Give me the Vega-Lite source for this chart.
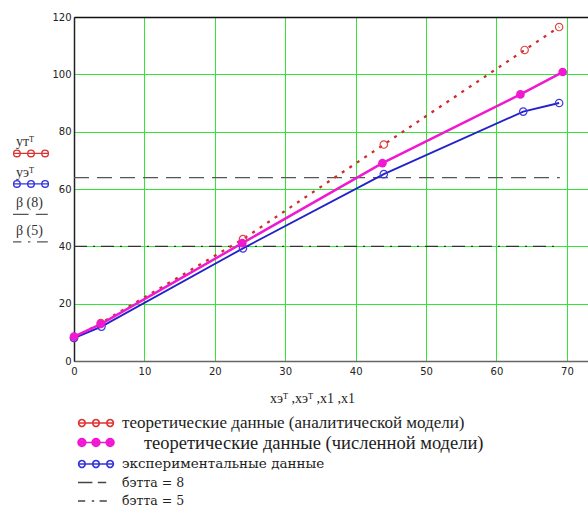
{
  "$schema": "https://vega.github.io/schema/vega-lite/v6.json",
  "width": 514,
  "height": 344,
  "autosize": {"type": "none"},
  "padding": {"left": 74, "top": 17, "right": 0, "bottom": 146},
  "background": "white",
  "config": {"view": {"stroke": null}},
  "datasets": {
    "pts": [
      {"s": "an", "x": 0, "y": 8},
      {"s": "an", "x": 3.8, "y": 13.2},
      {"s": "an", "x": 24, "y": 42.5},
      {"s": "an", "x": 44, "y": 75.5},
      {"s": "an", "x": 64, "y": 108.5},
      {"s": "an", "x": 68.9, "y": 116.5},
      {"s": "num", "x": 0, "y": 8.5},
      {"s": "num", "x": 3.8, "y": 12.9},
      {"s": "num", "x": 23.9, "y": 41.1},
      {"s": "num", "x": 43.8, "y": 69},
      {"s": "num", "x": 63.4, "y": 93},
      {"s": "num", "x": 69.4, "y": 100.8},
      {"s": "exp", "x": 0, "y": 8},
      {"s": "exp", "x": 3.9, "y": 12},
      {"s": "exp", "x": 24, "y": 39.3},
      {"s": "exp", "x": 44, "y": 65.2},
      {"s": "exp", "x": 63.8, "y": 87},
      {"s": "exp", "x": 68.9, "y": 90},
      {"s": "b8", "x": 0, "y": 64},
      {"s": "b8", "x": 69, "y": 64},
      {"s": "b5", "x": 0, "y": 40},
      {"s": "b5", "x": 69, "y": 40}
    ]
  },
  "data": {"name": "pts"},
  "encoding": {
    "x": {
      "field": "x", "type": "quantitative",
      "scale": {"domain": [0, 73], "nice": false, "zero": false},
      "axis": {
        "values": [0, 10, 20, 30, 40, 50, 60, 70],
        "title": "xэᵀ ,xэᵀ ,x1 ,x1",
        "grid": true,
        "gridColor": {"condition": {"test": "datum.value == 0", "value": "#222222"}, "value": "#33e633"},
        "gridOpacity": 1,
        "gridWidth": 1,
        "domainColor": "#666666",
        "domainWidth": 1.5,
        "ticks": false,
        "labelFont": "DejaVu Sans",
        "labelFontSize": 10,
        "labelColor": "#222222",
        "labelPadding": 5,
        "labelFlush": false,
        "labelOverlap": false,
        "titleFont": "Liberation Serif",
        "titleFontSize": 14,
        "titleFontWeight": "normal",
        "titleColor": "#222222",
        "titleX": 238,
        "titleY": 41,
        "titleAlign": "center",
        "titleBaseline": "alphabetic"
      }
    },
    "y": {
      "field": "y", "type": "quantitative",
      "scale": {"domain": [0, 120], "nice": false, "zero": false},
      "axis": {
        "values": [0, 20, 40, 60, 80, 100, 120],
        "title": null,
        "grid": true,
        "gridColor": {"condition": {"test": "datum.value == 120", "value": "#111111"}, "value": "#33e633"},
        "gridWidth": {"condition": {"test": "datum.value == 120", "value": 1.5}, "value": 1},
        "gridOpacity": 1,
        "domainColor": "#222222",
        "domainWidth": 1.5,
        "ticks": false,
        "labelFont": "DejaVu Sans",
        "labelFontSize": 10,
        "labelColor": "#222222",
        "labelPadding": 3,
        "labelFlush": false,
        "labelOverlap": false
      }
    }
  },
  "layer": [
    {
      "transform": [{"filter": "datum.s == 'b5'"}],
      "mark": {"type": "line", "color": "#333333", "strokeWidth": 1.3, "strokeDash": [13, 6, 2, 6]}
    },
    {
      "transform": [{"filter": "datum.s == 'b8'"}],
      "mark": {"type": "line", "color": "#555555", "strokeWidth": 1.3, "strokeDash": [15, 8]}
    },
    {
      "transform": [{"filter": "datum.s == 'an'"}],
      "mark": {"type": "line", "color": "#d02c2c", "strokeWidth": 2.3, "strokeDash": [3, 6]}
    },
    {
      "transform": [{"filter": "datum.s == 'exp'"}],
      "mark": {"type": "line", "color": "#2222cc", "strokeWidth": 1.8}
    },
    {
      "transform": [{"filter": "datum.s == 'num'"}],
      "mark": {"type": "line", "color": "#f018d0", "strokeWidth": 2.5}
    },
    {
      "transform": [{"filter": "datum.s == 'an'"}],
      "mark": {"type": "point", "filled": false, "opacity": 1, "color": "#e04444", "strokeWidth": 1.2, "size": 55}
    },
    {
      "transform": [{"filter": "datum.s == 'exp'"}],
      "mark": {"type": "point", "filled": false, "opacity": 1, "color": "#3a3ae0", "strokeWidth": 1.2, "size": 55}
    },
    {
      "transform": [{"filter": "datum.s == 'num'"}],
      "mark": {"type": "point", "filled": true, "opacity": 1, "color": "#f018d0", "size": 75}
    },
    {
      "transform": [{"filter": "false"}],
      "mark": {"type": "point", "filled": false, "opacity": 1},
      "encoding": {
        "shape": {
          "field": "s", "type": "nominal",
          "scale": {
            "domain": ["an", "num", "exp", "b8", "b5"],
            "range": [
              "M-2,0H2M-1.933,0a0.367,0.367 0 1,0 0.733,0a0.367,0.367 0 1,0 -0.733,0M-0.367,0a0.367,0.367 0 1,0 0.733,0a0.367,0.367 0 1,0 -0.733,0M1.2,0a0.367,0.367 0 1,0 0.733,0a0.367,0.367 0 1,0 -0.733,0",
              "M-2,0H2M-2,0a0.433,0.433 0 1,0 0.867,0a0.433,0.433 0 1,0 -0.867,0M-1.833,0a0.267,0.267 0 1,0 0.533,0a0.267,0.267 0 1,0 -0.533,0M-1.667,0a0.1,0.1 0 1,0 0.2,0a0.1,0.1 0 1,0 -0.2,0M-0.433,0a0.433,0.433 0 1,0 0.867,0a0.433,0.433 0 1,0 -0.867,0M-0.267,0a0.267,0.267 0 1,0 0.533,0a0.267,0.267 0 1,0 -0.533,0M-0.1,0a0.1,0.1 0 1,0 0.2,0a0.1,0.1 0 1,0 -0.2,0M1.133,0a0.433,0.433 0 1,0 0.867,0a0.433,0.433 0 1,0 -0.867,0M1.3,0a0.267,0.267 0 1,0 0.533,0a0.267,0.267 0 1,0 -0.533,0M1.467,0a0.1,0.1 0 1,0 0.2,0a0.1,0.1 0 1,0 -0.2,0",
              "M-2,0H2M-1.933,0a0.367,0.367 0 1,0 0.733,0a0.367,0.367 0 1,0 -0.733,0M-0.367,0a0.367,0.367 0 1,0 0.733,0a0.367,0.367 0 1,0 -0.733,0M1.2,0a0.367,0.367 0 1,0 0.733,0a0.367,0.367 0 1,0 -0.733,0",
              "M-2,0H-0.4M0.2,0H1.133",
              "M-2,0H-1.2M-0.467,0H-0.2M0.4,0H1.2"
            ]
          },
          "legend": {
            "title": null, "orient": "none", "legendX": 12, "legendY": 396, "padding": 0,
            "symbolSize": 324, "symbolStrokeWidth": 1.6, "symbolFillColor": "transparent",
            "symbolStrokeColor": {"expr": "datum.value == 'an' ? '#dd3333' : datum.value == 'num' ? '#f018d0' : datum.value == 'exp' ? '#3333dd' : '#444444'"},
            "labelOffset": {"expr": "datum.value == 'num' ? 38 : 16"},
            "rowPadding": 1.5, "labelLimit": 600,
            "labelColor": "#222222",
            "labelExpr": "{'an': 'теоретические данные (аналитической модели)', 'num': 'теоретические данные (численной модели)', 'exp': 'экспериментальные данные', 'b8': 'бэтта = 8', 'b5': 'бэтта = 5'}[datum.value]",
            "labelFont": {"expr": "datum.value == 'an' || datum.value == 'num' ? 'Liberation Serif' : 'DejaVu Serif'"},
            "labelFontSize": {"expr": "datum.value == 'num' ? 18.5 : datum.value == 'an' ? 17 : datum.value == 'exp' ? 13.5 : 12.5"}
          }
        }
      }
    },
    {
      "transform": [{"filter": "false"}],
      "mark": {"type": "point", "filled": false, "opacity": 1},
      "encoding": {
        "shape": {
          "field": "lab", "type": "nominal",
          "scale": {
            "domain": ["утᵀ", "уэᵀ", "β (8)", "β (5)"],
            "range": [
              "M-3,1.9H3M-2.9,1.9a0.55,0.55 0 1,0 1.1,0a0.55,0.55 0 1,0 -1.1,0M-0.55,1.9a0.55,0.55 0 1,0 1.1,0a0.55,0.55 0 1,0 -1.1,0M1.8,1.9a0.55,0.55 0 1,0 1.1,0a0.55,0.55 0 1,0 -1.1,0",
              "M-3,1.9H3M-2.9,1.9a0.55,0.55 0 1,0 1.1,0a0.55,0.55 0 1,0 -1.1,0M-0.55,1.9a0.55,0.55 0 1,0 1.1,0a0.55,0.55 0 1,0 -1.1,0M1.8,1.9a0.55,0.55 0 1,0 1.1,0a0.55,0.55 0 1,0 -1.1,0",
              "M-3,1.9H-0.4M0.8,1.9H2.8",
              "M-3,1.9H-1.6M-0.5,1.9H-0.1M1,1.9H2.8"
            ]
          },
          "legend": {
            "title": null, "orient": "none", "legendX": -50, "legendY": 118, "padding": 0,
            "symbolSize": 144, "symbolStrokeWidth": 1.4, "symbolFillColor": "transparent",
            "symbolStrokeColor": {"expr": "datum.value == 'утᵀ' ? '#dd3333' : datum.value == 'уэᵀ' ? '#3333dd' : '#555555'"},
            "labelOffset": -22, "rowPadding": 5.5,
            "labelColor": "#333333", "labelFont": "Liberation Serif", "labelFontSize": 14, "labelAlign": "left"
          }
        }
      }
    }
  ],
  "resolve": {"scale": {"shape": "independent"}}
}
